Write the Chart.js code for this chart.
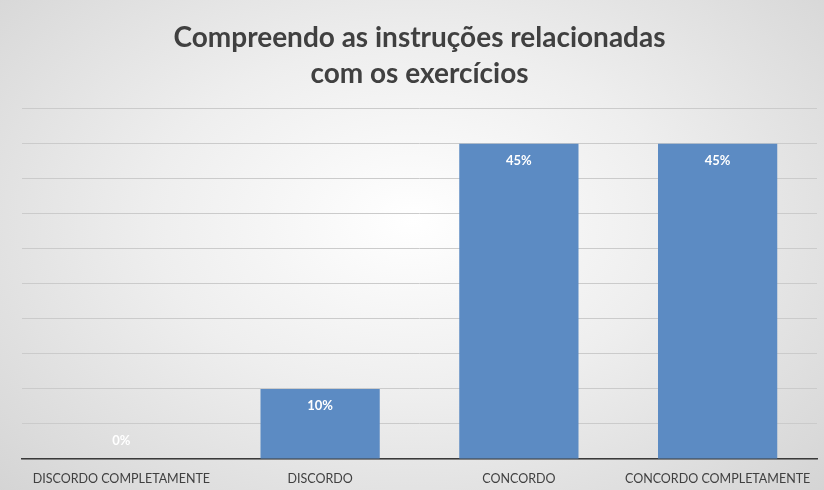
<!DOCTYPE html>
<html>
<head>
<meta charset="utf-8">
<script src="https://cdn.jsdelivr.net/npm/chart.js@4/dist/chart.umd.min.js"></script>
<style>
  html, body { margin: 0; padding: 0; }
  body { width: 824px; height: 490px; overflow: hidden;
    background: radial-gradient(ellipse 70% 80% at 50% 45%, #ffffff 0%, #eeeeee 45%, #d4d4d4 100%); }
  #wrap { width: 824px; height: 490px; position: relative; }
</style>
</head>
<body>
<div id="wrap"><canvas id="c" width="824" height="490"></canvas></div>
<script>
const titleLines = ["Compreendo as instruções relacionadas", "com os exercícios"];
const categories = ["DISCORDO COMPLETAMENTE", "DISCORDO", "CONCORDO", "CONCORDO COMPLETAMENTE"];
const values = [0, 10, 45, 45];
const valueLabels = ["0%", "10%", "45%", "45%"];
const yMax = 50;
const yStep = 5;

const labelPlugin = {
  id: 'barLabels',
  afterDatasetsDraw(chart) {
    const ctx = chart.ctx;
    const meta = chart.getDatasetMeta(0);
    ctx.save();
    ctx.fillStyle = '#ffffff';
    ctx.font = 'bold 13px Lato, sans-serif';
    ctx.textAlign = 'center';
    ctx.textBaseline = 'middle';
    meta.data.forEach((bar, i) => {
      const h = bar.base - bar.y;
      const y = h >= 30 ? bar.y + 17 : bar.base - 18;
      ctx.fillText(valueLabels[i], bar.x, y);
    });
    ctx.restore();
  }
};

new Chart(document.getElementById('c'), {
  type: 'bar',
  data: {
    labels: categories,
    datasets: [{
      data: values,
      backgroundColor: '#5c8bc3',
      borderWidth: 0,
      categoryPercentage: 0.6,
      barPercentage: 1.0
    }]
  },
  options: {
    responsive: false,
    animation: false,
    devicePixelRatio: 1,
    layout: { padding: { left: 22, right: 7, top: 0, bottom: -8 } },
    plugins: {
      legend: { display: false },
      tooltip: { enabled: false },
      title: {
        display: true,
        text: titleLines,
        color: '#404040',
        font: { family: 'Lato, sans-serif', size: 28, weight: 'bold', lineHeight: 1.28 },
        padding: { top: 20, bottom: 17 }
      }
    },
    scales: {
      x: {
        grid: { display: false, drawTicks: false },
        border: { display: true, color: '#3a3a3a', width: 1.5 },
        ticks: {
          color: '#404040',
          font: { family: 'Lato, sans-serif', size: 12.5 },
          padding: 12,
          maxRotation: 0,
          autoSkip: false
        }
      },
      y: {
        min: 0,
        max: yMax,
        ticks: { display: false, stepSize: yStep },
        grid: { color: '#cbcbcb', lineWidth: 1, drawTicks: false },
        border: { display: false }
      }
    }
  },
  plugins: [labelPlugin]
});
</script>
</body>
</html>
